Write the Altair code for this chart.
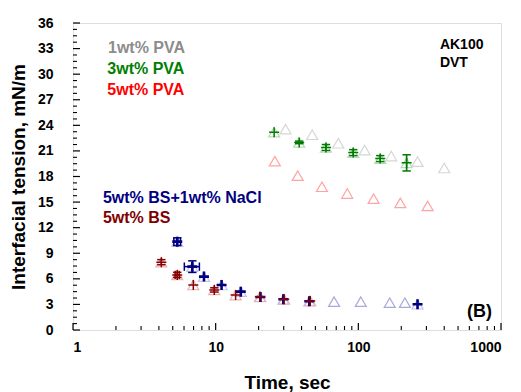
import altair as alt
import pandas as pd

# ---------------- data ----------------
pva1_t = [30.9, 47.5, 72.3, 110.7, 170, 260, 400]
pva1_v = [23.55, 22.9, 21.9, 21.1, 20.4, 19.75, 19.0]

pva3_t = [25.7, 38.5, 59.3, 92.1, 142.4, 218]
pva3_v = [23.2, 22.0, 21.4, 20.8, 20.1, 19.6]
pva3_yerr = [0.0, 0.15, 0.35, 0.35, 0.35, 0.95]

pva5_t = [26.0, 37.6, 55.6, 83.6, 128, 197, 306]
pva5_v = [19.8, 18.1, 16.8, 16.0, 15.4, 14.9, 14.55]

bsn_t = [5.38, 6.86, 8.28, 11.0, 15.0, 20.6, 29.8, 45.3, 260]
bsn_v = [10.36, 7.43, 6.26, 5.28, 4.5, 3.87, 3.6, 3.37, 3.02]
bsn_yerr = [0.45, 0.68, 0, 0, 0, 0, 0, 0, 0]
bsn_xerr = [0.29, 0.83, 0, 0, 0, 0, 0, 0, 0]
bsn_tri_t = [67.6, 104, 166, 212]
bsn_tri_v = [3.32, 3.32, 3.2, 3.2]

bs_t = [4.16, 5.38, 6.97, 9.78, 13.8, 20.4, 30.2, 46.0]
bs_v = [7.95, 6.46, 5.28, 4.7, 4.1, 3.9, 3.6, 3.4]
bs_yerr = [0.3, 0.3, 0, 0.25, 0, 0, 0, 0]
bs_xerr = [0, 0.18, 0, 0, 0, 0, 0, 0]

y_major = list(range(0, 37, 3))
x_major = [1, 10, 100, 1000]

# ---------------- styling ----------------
FONT = "Liberation Sans"
faint = {"pva1": "#d6d6d6", "pva3": "#b5dcb5", "pva5": "#ffa3a3",
         "bsn": "#c4c4ec", "bsn_tri": "#a9a9dc", "bs": "#e6b4b4"}
dark = {"pva3": "#007a00", "bsn": "#000080", "bs": "#8b0000"}
plus_w = {"pva3": 1.5, "bsn": 2.6, "bs": 1.5}

W, H = 428, 307
xs = alt.Scale(type="log", domain=[1, 1000])
ys = alt.Scale(domain=[0, 36], nice=False, zero=False)

# triangles
tri_rows = []
for key, tt, vv in [("pva1", pva1_t, pva1_v), ("pva3", pva3_t, pva3_v),
                    ("pva5", pva5_t, pva5_v), ("bsn", bsn_t, bsn_v),
                    ("bsn_tri", bsn_tri_t, bsn_tri_v), ("bs", bs_t, bs_v)]:
    for t, v in zip(tt, vv):
        tri_rows.append({"t": t, "v": v, "color": faint[key]})
tri_df = pd.DataFrame(tri_rows)

# plus markers and error bars
plus_rows, yerr_rows, xerr_rows = [], [], []
for key, tt, vv, ye, xe in [("pva3", pva3_t, pva3_v, pva3_yerr, [0] * len(pva3_t)),
                            ("bsn", bsn_t, bsn_v, bsn_yerr, bsn_xerr),
                            ("bs", bs_t, bs_v, bs_yerr, bs_xerr)]:
    for t, v, e, f in zip(tt, vv, ye, xe):
        plus_rows.append({"t": t, "v": v, "color": dark[key], "w": plus_w[key]})
        if e > 0:
            yerr_rows.append({"t": t, "v": v, "lo": v - e, "hi": v + e, "color": dark[key]})
        if f > 0:
            xerr_rows.append({"t": t, "v": v, "lo": t - f, "hi": t + f, "color": dark[key]})
plus_df = pd.DataFrame(plus_rows)
yerr_df = pd.DataFrame(yerr_rows)
xerr_df = pd.DataFrame(xerr_rows)
ycap_df = pd.concat([yerr_df.assign(c=yerr_df["lo"]), yerr_df.assign(c=yerr_df["hi"])])
xcap_df = pd.concat([xerr_df.assign(c=xerr_df["lo"]), xerr_df.assign(c=xerr_df["hi"])])

PLUS = "M-1,0L1,0M0,-1L0,1"
HLINE = "M-1,0L1,0"
VLINE = "M0,-1L0,1"

col = alt.Color("color:N", scale=None)

xaxis = alt.Axis(values=x_major, format="d", ticks=False, tickSize=0, domain=False, grid=False,
                 labelOverlap=False, tickCount=20,
                 labelFont=FONT, labelFontSize=14, labelFontWeight="bold", labelColor="black",
                 labelPadding=10, title="Time, sec", titleFont=FONT, titleFontSize=19,
                 titleFontWeight="bold", titleColor="black", titleY=58, titleBaseline="alphabetic")
yaxis = alt.Axis(values=y_major, ticks=False, tickSize=0, domain=False, grid=False,
                 labelOverlap=False, tickCount=40,
                 labelFont=FONT, labelFontSize=14, labelFontWeight="bold", labelColor="black",
                 labelPadding=20, title="Interfacial tension, mN/m", titleFont=FONT,
                 titleFontSize=19, titleFontWeight="bold", titleColor="black",
                 titleX=-55, titleY=H / 2, titleAngle=-90, titleAlign="center",
                 titleBaseline="middle")

base_tri = alt.Chart(tri_df).mark_point(shape="triangle-up", filled=False, size=121,
                                        strokeWidth=1.2, opacity=1).encode(
    x=alt.X("t:Q", scale=xs, axis=xaxis),
    y=alt.Y("v:Q", scale=ys, axis=yaxis),
    color=col)

yerr_rule = alt.Chart(yerr_df).mark_rule(strokeWidth=1.6).encode(
    x=alt.X("t:Q", scale=xs), y=alt.Y("lo:Q", scale=ys), y2="hi:Q", color=col)
ycaps = alt.Chart(ycap_df).mark_point(shape=HLINE, size=70, filled=False, strokeWidth=1.5,
                                      opacity=1).encode(
    x=alt.X("t:Q", scale=xs), y=alt.Y("c:Q", scale=ys), color=col)
xerr_rule = alt.Chart(xerr_df).mark_rule(strokeWidth=1.5).encode(
    x=alt.X("lo:Q", scale=xs), x2="hi:Q", y=alt.Y("v:Q", scale=ys), color=col)
xcaps = alt.Chart(xcap_df).mark_point(shape=VLINE, size=70, filled=False, strokeWidth=1.5,
                                      opacity=1).encode(
    x=alt.X("c:Q", scale=xs), y=alt.Y("v:Q", scale=ys), color=col)
plus = alt.Chart(plus_df).mark_point(shape=PLUS, size=100, filled=False, opacity=1).encode(
    x=alt.X("t:Q", scale=xs), y=alt.Y("v:Q", scale=ys), color=col,
    strokeWidth=alt.StrokeWidth("w:Q", scale=None))

# inward axis ticks
y_minor = [i * 0.75 for i in range(0, 49) if (i * 0.75) % 3 != 0]
x_minor = [m * 10 ** k for k in range(3) for m in range(2, 10)]
ytick_major = alt.Chart(pd.DataFrame({"v": y_major})).mark_rule(color="black", strokeWidth=1.2).encode(
    y=alt.Y("v:Q", scale=ys), x=alt.value(0), x2=alt.value(7))
ytick_minor = alt.Chart(pd.DataFrame({"v": y_minor})).mark_rule(color="black", strokeWidth=1.1).encode(
    y=alt.Y("v:Q", scale=ys), x=alt.value(0), x2=alt.value(4))
xtick_major = alt.Chart(pd.DataFrame({"t": x_major})).mark_rule(color="black", strokeWidth=1.2).encode(
    x=alt.X("t:Q", scale=xs), y=alt.value(H), y2=alt.value(H - 7))
xtick_minor = alt.Chart(pd.DataFrame({"t": x_minor})).mark_rule(color="black", strokeWidth=1.1).encode(
    x=alt.X("t:Q", scale=xs), y=alt.value(H), y2=alt.value(H - 4))

# annotations
labels = pd.DataFrame([
    {"t": 1.76, "v": 33.1, "text": "1wt% PVA", "color": "#8c8c8c", "size": 16},
    {"t": 1.74, "v": 30.6, "text": "3wt% PVA", "color": "#008000", "size": 16},
    {"t": 1.74, "v": 28.2, "text": "5wt% PVA", "color": "#ff0000", "size": 16},
    {"t": 1.62, "v": 15.5, "text": "5wt% BS+1wt% NaCl", "color": "#000080", "size": 16},
    {"t": 1.62, "v": 13.1, "text": "5wt% BS", "color": "#800000", "size": 16},
    {"t": 373, "v": 33.45, "text": "AK100", "color": "black", "size": 14},
    {"t": 373, "v": 31.3, "text": "DVT", "color": "black", "size": 14},
])
texts = alt.Chart(labels).mark_text(font=FONT, fontWeight="bold", fontSize=16, align="left",
                                    baseline="middle").encode(
    x=alt.X("t:Q", scale=xs), y=alt.Y("v:Q", scale=ys), text="text:N", color=col,
    size=alt.Size("size:Q", scale=None))
panel = alt.Chart(pd.DataFrame([{"t": 864, "v": 2.1, "text": "(B)"}])).mark_text(
    font=FONT, fontWeight="bold", fontSize=18, align="right", baseline="middle", color="black").encode(
    x=alt.X("t:Q", scale=xs), y=alt.Y("v:Q", scale=ys), text="text:N")

chart = alt.layer(base_tri, yerr_rule, ycaps, xerr_rule, xcaps, plus,
                  ytick_major, ytick_minor, xtick_major, xtick_minor, texts, panel).properties(
    width=W, height=H,
    autosize=alt.AutoSizeParams(type="none"),
    padding={"left": 65, "top": 15, "right": 12, "bottom": 62},
).configure_view(stroke="black", strokeWidth=1.5).configure(background="white")

chart.save("out.html", embed_options={"renderer": "svg", "actions": False})
